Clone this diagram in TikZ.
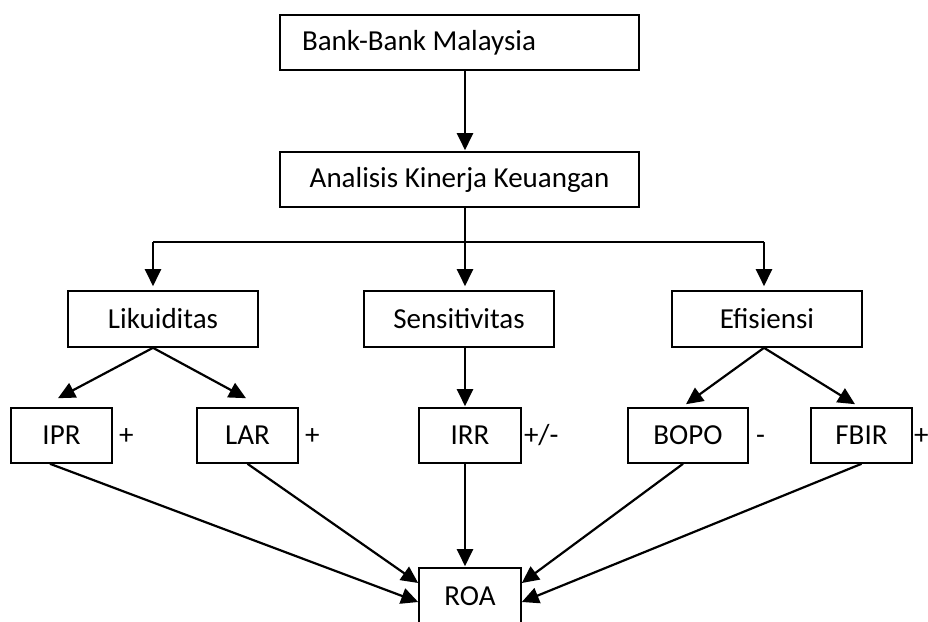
\documentclass[tikz,border=0pt]{standalone}
\usepackage{fontspec}
\setmainfont{Carlito}
\usepackage{tikz}
\usetikzlibrary{arrows.meta}

\begin{document}
\begin{tikzpicture}[x=1pt,y=-1pt,font=\fontsize{29}{34}\selectfont,
  kotak/.style={draw,line width=1.6pt,minimum height=55pt,inner sep=0pt},
  panah/.style={-{Triangle[length=17pt,width=16pt]},line width=2.2pt},
  garis/.style={line width=2.2pt},
  tanda/.style={anchor=base west,inner sep=0pt}]
\useasboundingbox (0,0) rectangle (928,621);
\node[kotak,minimum width=359pt,text width=315pt,align=flush left] (bank) at (459.5,42.5) {Bank-Bank Malaysia};
\node[kotak,minimum width=359pt] (analisis) at (459.5,179.5) {Analisis Kinerja Keuangan};
\coordinate (trunk) at (465,242);
\coordinate (jl) at (153,242);
\coordinate (jr) at (764,242);
\node[kotak,minimum width=190pt,minimum height=56pt] (likuiditas) at (163,319) {Likuiditas};
\node[kotak,minimum width=190pt,minimum height=56pt] (sensitivitas) at (459,319) {Sensitivitas};
\node[kotak,minimum width=190pt,minimum height=56pt] (efisiensi) at (767,319) {Efisiensi};
\node[kotak,minimum width=101pt] (ipr) at (61.5,435.5) {IPR};
\node[kotak,minimum width=101pt] (lar) at (247.5,435.5) {LAR};
\node[kotak,minimum width=102pt] (irr) at (470,435.5) {IRR};
\node[kotak,minimum width=120pt] (bopo) at (688,435.5) {BOPO};
\node[kotak,minimum width=101pt] (fbir) at (861.5,435.5) {FBIR};
\node[kotak,minimum width=102pt,minimum height=56pt] (roa) at (470,596) {ROA};
\node[tanda] (s1) at ([xshift=6pt]ipr.base east) {+};
\node[tanda] (s2) at ([xshift=6pt]lar.base east) {+};
\node[tanda] (s3) at ([xshift=2pt]irr.base east) {+/-};
\node[tanda] (s4) at ([xshift=7pt]bopo.base east) {-};
\node[tanda] (s5) at ([xshift=1pt]fbir.base east) {+};
% atas
\draw[panah] (trunk |- bank.south) -- ([yshift=1pt]trunk |- analisis.north);
\draw[garis] (trunk |- analisis.south) -- (trunk);
\draw[garis] (jl) -- (jr);
\draw[panah] (jl) -- ([yshift=4pt]jl |- likuiditas.north);
\draw[panah] (trunk) -- ([yshift=4pt]trunk |- sensitivitas.north);
\draw[panah] (jr) -- ([yshift=4pt]jr |- efisiensi.north);
% tengah
\draw[panah] (jl |- likuiditas.south) -- ([xshift=-3.5pt,yshift=9pt]ipr.north);
\draw[panah] (jl |- likuiditas.south) -- ([xshift=-1.5pt,yshift=9pt]lar.north);
\draw[panah] (trunk |- sensitivitas.south) -- ([yshift=1pt]trunk |- irr.north);
\draw[panah] (jr |- efisiensi.south) -- ([xshift=-2pt,yshift=3pt]bopo.north);
\draw[panah] (jr |- efisiensi.south) -- ([xshift=-6.5pt,yshift=3pt]fbir.north);
% bawah
\draw[panah] ([xshift=-11.5pt]ipr.south) -- ([yshift=-6pt]roa.west);
\draw[panah] (lar.south) -- ([yshift=13pt]roa.west);
\draw[panah] (trunk |- irr.south) -- ([yshift=1pt]trunk |- roa.north);
\draw[panah] ([xshift=-5pt]bopo.south) -- ([yshift=13pt]roa.east);
\draw[panah] (fbir.south) -- ([yshift=-6pt]roa.east);
\end{tikzpicture}
\end{document}
